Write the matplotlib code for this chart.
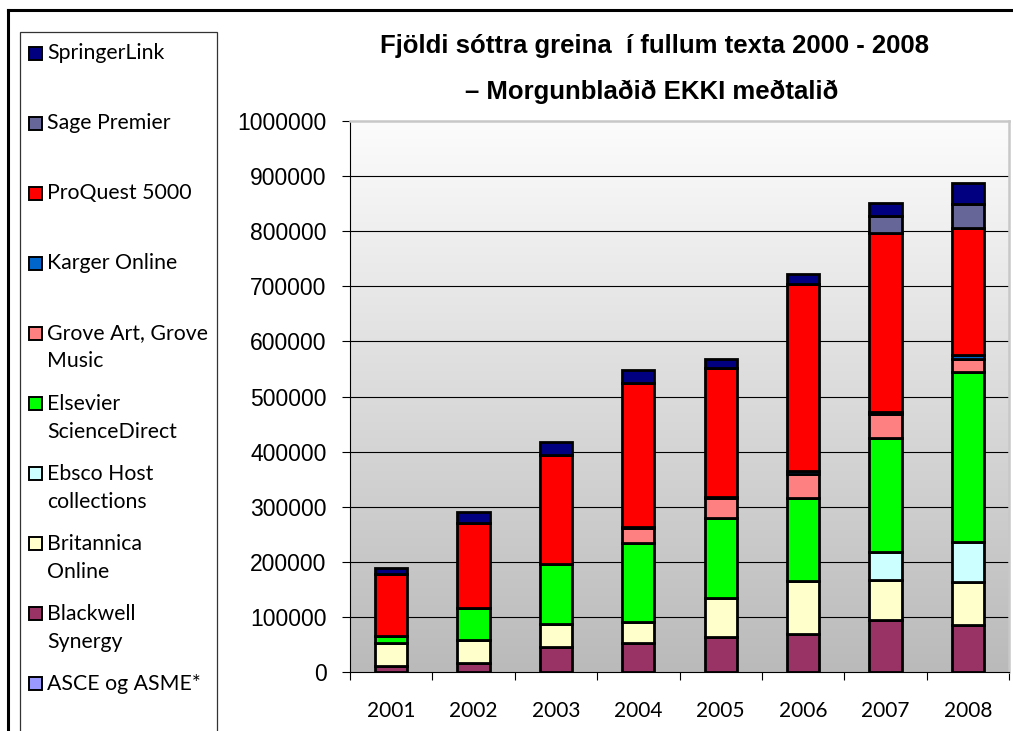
import numpy as np
import matplotlib
matplotlib.use("Agg")
import matplotlib.pyplot as plt
from matplotlib.patches import Rectangle
from matplotlib.lines import Line2D

years = ['2001', '2002', '2003', '2004', '2005', '2006', '2007', '2008']

# series, bottom to top of each stack
asce = [0, 0, 0, 0, 0, 0, 0, 0]
blackwell = [10000, 17000, 45000, 52000, 64000, 69000, 95000, 85000]
britannica = [43000, 41000, 41500, 39000, 70000, 96000, 72000, 79000]
ebsco = [0, 0, 0, 0, 0, 0, 50000, 72000]
elsevier = [13000, 59000, 109500, 144000, 146000, 151000, 208000, 309000]
grove = [0, 0, 0, 26000, 35000, 43000, 43000, 23000]
karger = [0, 0, 0, 3000, 3000, 5000, 4000, 7000]
proquest = [111000, 153000, 198000, 260000, 233000, 340000, 324000, 231000]
sage = [0, 0, 0, 0, 0, 0, 32000, 44000]
springer = [11000, 20000, 23000, 24000, 17000, 19000, 24000, 37000]

series_names = ['ASCE og ASME*', 'Blackwell\nSynergy', 'Britannica\nOnline',
                'Ebsco Host\ncollections', 'Elsevier\nScienceDirect',
                'Grove Art, Grove\nMusic', 'Karger Online', 'ProQuest 5000',
                'Sage Premier', 'SpringerLink']
series_values = [asce, blackwell, britannica, ebsco, elsevier, grove,
                 karger, proquest, sage, springer]
series_colors = ['#9999FF', '#993366', '#FFFFCC', '#CCFFFF', '#00FF00',
                 '#FF8080', '#0066CC', '#FF0000', '#666699', '#000080']

title1 = 'Fjöldi sóttra greina  í fullum texta 2000 - 2008'
title2 = '– Morgunblaðið EKKI meðtalið'

W, H = 1013, 731
fig = plt.figure(figsize=(W / 100, H / 100), dpi=100)
fig.patch.set_facecolor('white')

def fx(px):
    return px / W

def fy(py):
    return 1 - py / H

ax_left, ax_right, ax_top, ax_bot = 350, 1009, 121, 672
ax = fig.add_axes([fx(ax_left), fy(ax_bot), (ax_right - ax_left) / W, (ax_bot - ax_top) / H])

# gradient background
grad = np.linspace(0, 1, 256).reshape(-1, 1)
cmap = matplotlib.colors.LinearSegmentedColormap.from_list('g', ['#fcfcfc', '#bababa'])
ax.imshow(grad, extent=[-0.5, 7.5, 0, 1000000], aspect='auto', cmap=cmap,
          origin='upper', zorder=0)

x = np.arange(len(years))
bottom = np.zeros(len(years))
for vals, col in zip(series_values, series_colors):
    ax.bar(x, vals, width=0.39, bottom=bottom, color=col, edgecolor='black',
           linewidth=2.0, zorder=3)
    bottom += np.array(vals)

ax.set_xlim(-0.5, 7.5)
ax.set_ylim(0, 1000000)
yt = np.arange(0, 1000001, 100000)
ax.set_yticks(yt)
ax.set_yticklabels([str(v) for v in yt], fontfamily='Liberation Sans', fontsize=16.5)
for v in yt[1:-1]:
    ax.axhline(v, color='black', lw=0.8, zorder=1)
ax.tick_params(axis='y', direction='out', length=6, width=0.8, pad=11)
ax.set_xticks(x)
ax.set_xticklabels(years, fontfamily='Lato', fontsize=15)
ax.set_xticks(np.arange(-0.5, 8, 1), minor=True)
ax.tick_params(axis='x', which='major', length=0, pad=21)
ax.tick_params(axis='x', which='minor', direction='out', length=6, width=0.8)

ax.spines['left'].set_color('black')
ax.spines['left'].set_linewidth(0.8)
ax.spines['bottom'].set_color('black')
ax.spines['bottom'].set_linewidth(0.8)
for s in ['top', 'right']:
    ax.spines[s].set_color('#c8c8c8')
    ax.spines[s].set_linewidth(1.8)

# titles
fig.text(fx(655), fy(46), title1, ha='center', va='center',
         fontfamily='Liberation Sans', fontweight='bold', fontsize=18.5)
fig.text(fx(652), fy(92), title2, ha='center', va='center',
         fontfamily='Liberation Sans', fontweight='bold', fontsize=18.5)

# outer chart border
fig.add_artist(Line2D([fx(8), fx(8)], [fy(10), fy(H + 10)], color='black', lw=2.2))
fig.add_artist(Line2D([fx(8), fx(W + 10)], [fy(10), fy(10)], color='black', lw=2.2))

# legend box
fig.add_artist(Rectangle((fx(20), fy(H + 10)), (217 - 20) / W, (H + 10 - 32) / H,
                         transform=fig.transFigure, facecolor='white',
                         edgecolor='#333333', lw=0.9, zorder=2))

first_y = 53
step = 70.1
for i, (name, col) in enumerate(zip(series_names[::-1], series_colors[::-1])):
    yc = first_y + i * step
    fig.add_artist(Rectangle((fx(29), fy(yc + 6.5)), 13 / W, 13 / H,
                             transform=fig.transFigure, facecolor=col,
                             edgecolor='black', lw=1.4, zorder=3))
    for j, line in enumerate(name.split('\n')):
        fig.text(fx(47), fy(yc + j * 28), line, ha='left', va='center',
                 fontfamily='Lato', fontsize=15.3, zorder=4)

fig.savefig('out.png', dpi=100)
